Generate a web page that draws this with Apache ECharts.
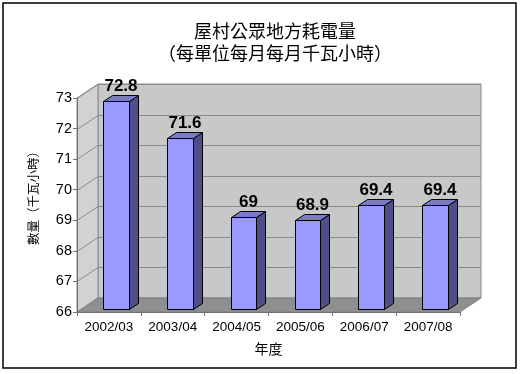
<!DOCTYPE html>
<html><head><meta charset="utf-8">
<script src="https://cdn.jsdelivr.net/npm/echarts@6/dist/echarts.min.js"></script>
<style>html,body{margin:0;padding:0;background:#fff}#c{width:520px;height:374px}</style>
</head><body><div id="c"></div>
<script>
const categories = ['2002/03', '2003/04', '2004/05', '2005/06', '2006/07', '2007/08'];
const values = [72.8, 71.6, 69, 68.9, 69.4, 69.4];
const yMin = 66, yMax = 73, yStep = 1;
const titleText = '屋村公眾地方耗電量\n（每單位每月每月千瓦小時）';
const yName = '數量（千瓦小時）';
const xName = '年度';

const WALL_DX = 21, WALL_DY = -14;   // depth of the 3D box
const BAR_OX = 7, BAR_OY = -3;       // bar front offset inside the box
const BAR_DX = 9, BAR_DY = -6;       // bar depth

const chart = echarts.init(document.getElementById('c'), null, {renderer: 'canvas'});

function wallsRender(params, api) {
  const cs = params.coordSys;
  const x0 = cs.x, x1 = cs.x + cs.width, yT = cs.y, yB = cs.y + cs.height;
  const dx = WALL_DX, dy = WALL_DY;
  const children = [];
  children.push({type: 'polygon', shape: {points: [[x0+dx, yT+dy],[x1+dx, yT+dy],[x1+dx, yB+dy],[x0+dx, yB+dy]]},
    style: {fill: '#c8c8c8', stroke: '#8a8a8a', lineWidth: 1}});
  children.push({type: 'polygon', shape: {points: [[x0, yB],[x0, yT],[x0+dx, yT+dy],[x0+dx, yB+dy]]},
    style: {fill: '#d2d2d2', stroke: '#8a8a8a', lineWidth: 1}});
  children.push({type: 'polygon', shape: {points: [[x0, yB],[x1, yB],[x1+dx, yB+dy],[x0+dx, yB+dy]]},
    style: {fill: '#8f8f8f', stroke: '#808080', lineWidth: 1}});
  for (let v = yMin + yStep; v <= yMax; v += yStep) {
    const y = Math.round(api.coord([0, v])[1]) + 0.5;
    children.push({type: 'line', shape: {x1: x0+dx, y1: y+dy, x2: x1+dx, y2: y+dy},
      style: {stroke: '#8a8a8a', lineWidth: 1}});
    children.push({type: 'line', shape: {x1: x0, y1: y, x2: x0+dx, y2: y+dy},
      style: {stroke: '#8a8a8a', lineWidth: 1}});
  }
  return {type: 'group', children};
}

function barRender(params, api) {
  const idx = api.value(0), v = api.value(1);
  const top = api.coord([idx, v]);
  const base = api.coord([idx, yMin]);
  const band = api.size([1, 0])[0];
  const w = band * 0.4;
  const xl = Math.round(top[0] + BAR_OX - w / 2) + 0.5;
  const xr = Math.round(top[0] + BAR_OX + w / 2) + 0.5;
  const yt = Math.round(top[1] + BAR_OY) + 0.5;
  const yb = Math.round(base[1] + BAR_OY) + 0.5;
  const dx = BAR_DX, dy = BAR_DY;
  const stroke = {stroke: '#000', lineWidth: 1, lineJoin: 'round'};
  return {type: 'group', children: [
    {type: 'polygon', shape: {points: [[xr, yt],[xr+dx, yt+dy],[xr+dx, yb+dy],[xr, yb]]},
      style: Object.assign({fill: '#4f4f88'}, stroke)},
    {type: 'polygon', shape: {points: [[xl, yt],[xl+dx, yt+dy],[xr+dx, yt+dy],[xr, yt]]},
      style: Object.assign({fill: '#7a7acc'}, stroke)},
    {type: 'rect', shape: {x: xl, y: yt, width: xr - xl, height: yb - yt},
      style: Object.assign({fill: '#9999ff'}, stroke)},
    {type: 'text', style: {text: String(v), x: (xl + xr) / 2 + dx / 2, y: yt + dy - 1,
      textAlign: 'center', textVerticalAlign: 'bottom',
      font: 'bold 17px "Liberation Sans", Arial, sans-serif', fill: '#000'}}
  ]};
}

chart.setOption({
  animation: false,
  title: {text: titleText, left: 270, top: 15, textAlign: 'center',
    textStyle: {fontFamily: '"Noto Sans CJK TC", sans-serif', fontSize: 18, fontWeight: 'normal', lineHeight: 22, color: '#000'}},
  graphic: [
    {type: 'rect', shape: {x: 3, y: 3, width: 513, height: 365},
      style: {fill: 'none', stroke: '#000', lineWidth: 1.5}, z: 100},
    {type: 'text', x: 33, y: 195, rotation: Math.PI / 2,
      style: {text: yName, textAlign: 'center', textVerticalAlign: 'middle',
        font: '12.5px "Noto Sans CJK TC", sans-serif', fill: '#000'}, z: 100}
  ],
  grid: {left: 77, right: 60, top: 98, bottom: 62, containLabel: false},
  xAxis: {type: 'category', data: categories, boundaryGap: true, z: 10,
    name: xName, nameLocation: 'middle', nameGap: 30,
    nameTextStyle: {fontFamily: '"Noto Sans CJK TC", sans-serif', fontSize: 14, color: '#000'},
    axisLine: {show: true, lineStyle: {color: '#707070', width: 1}},
    axisTick: {show: true, length: 4, lineStyle: {color: '#707070'}},
    axisLabel: {fontFamily: '"Liberation Sans", Arial, sans-serif', fontSize: 13.5, color: '#000', margin: 8}},
  yAxis: {type: 'value', min: yMin, max: yMax, interval: yStep, z: 10,
    axisLine: {show: true, lineStyle: {color: '#707070', width: 1}},
    axisTick: {show: true, length: 4, lineStyle: {color: '#707070'}},
    splitLine: {show: false},
    axisLabel: {fontFamily: '"Liberation Sans", Arial, sans-serif', fontSize: 14.5, color: '#000', margin: 5}},
  series: [
    {type: 'custom', renderItem: wallsRender, data: [[0, yMin]], z: 1, silent: true},
    {type: 'custom', renderItem: barRender, data: values.map((v, i) => [i, v]), z: 5}
  ]
});
</script></body></html>
